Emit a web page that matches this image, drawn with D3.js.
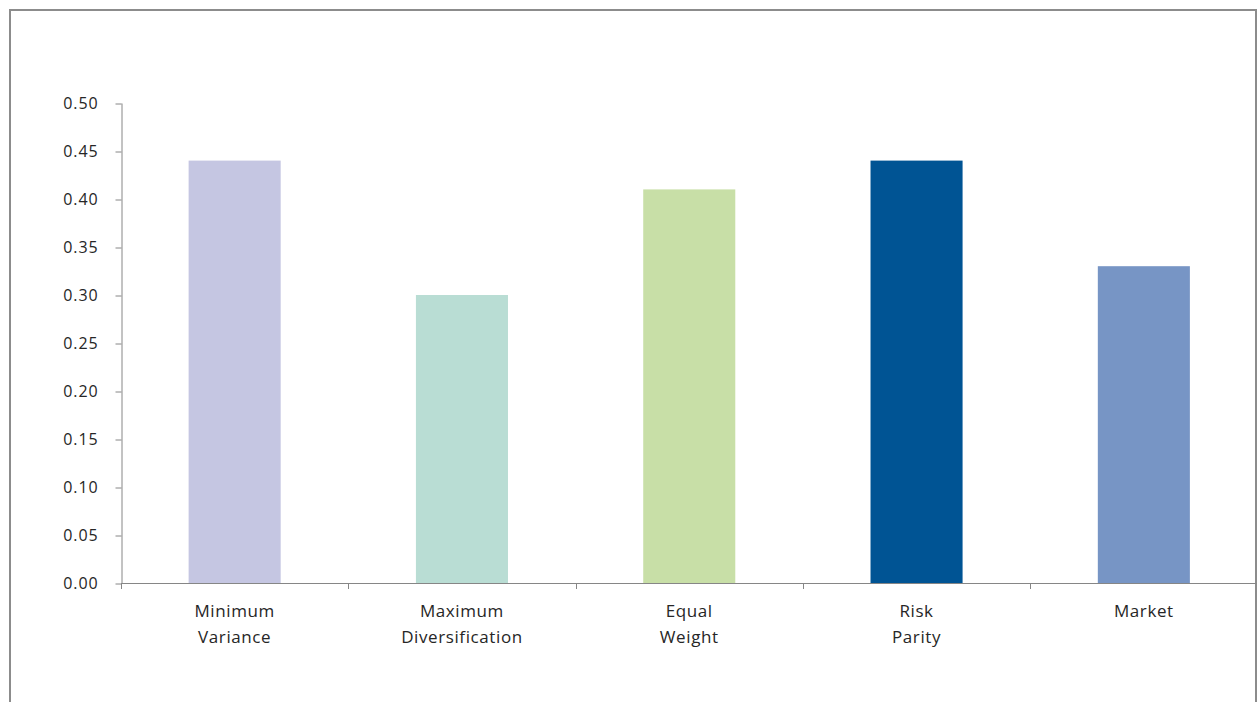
<!DOCTYPE html>
<html>
<head>
<meta charset="utf-8">
<script src="https://cdn.jsdelivr.net/npm/d3@7"></script>
<style>
  html, body { margin: 0; padding: 0; background: #fff; }
  svg { display: block; }
  text { font-family: "Open Sans", "Liberation Sans", sans-serif; fill: #262626; }
</style>
</head>
<body>
<svg id="chart" width="1257" height="702"></svg>
<script>
// Strategy labels (two lines each) and their values
const categories = [
  ["Minimum", "Variance"],
  ["Maximum", "Diversification"],
  ["Equal", "Weight"],
  ["Risk", "Parity"],
  ["Market"]
];
const values = [0.44, 0.30, 0.41, 0.44, 0.33];
const colors = ["#C5C6E2", "#B9DDD4", "#C8DFA7", "#005494", "#7795C5"];
const yTicks = [0, 0.05, 0.10, 0.15, 0.20, 0.25, 0.30, 0.35, 0.40, 0.45, 0.50];

const svg = d3.select("#chart");
const W = 1257, H = 702;

// outer frame
svg.append("path")
  .attr("d", `M10,${H} V10 H1256 V${H}`)
  .attr("fill", "none")
  .attr("stroke", "#8c8c8c")
  .attr("stroke-width", 2);

const plot = { left: 121, right: 1257.5, top: 103, bottom: 583 };
const keys = categories.map((c, i) => i);

const x = d3.scaleBand().domain(keys).range([plot.left, plot.right]).padding(0);
const y = d3.scaleLinear().domain([0, 0.5]).range([plot.bottom, plot.top]);
const barW = x.bandwidth() * 0.405;

// bars
svg.append("g").selectAll("rect")
  .data(values)
  .join("rect")
  .attr("x", (d, i) => x(i) + (x.bandwidth() - barW) / 2)
  .attr("y", d => y(d))
  .attr("width", barW)
  .attr("height", d => y(0) - y(d))
  .attr("fill", (d, i) => colors[i]);

// y axis
const yAxis = svg.append("g")
  .attr("transform", `translate(${plot.left + 0.5},0)`)
  .call(d3.axisLeft(y).tickValues(yTicks).tickFormat(d3.format(".2f")).tickSize(6).tickSizeOuter(0).tickPadding(17));
yAxis.selectAll("path, line").attr("stroke", "#868686");
yAxis.selectAll("text")
  .style("font-size", "16px")
  .style("letter-spacing", "0.9px")
  .attr("fill", "#262626");
yAxis.selectAll(".tick line").attr("transform", "translate(0,0.5)");

// x axis baseline with boundary ticks
const xg = svg.append("g");
xg.append("line")
  .attr("x1", plot.left).attr("x2", plot.right)
  .attr("y1", y(0) + 0.5).attr("y2", y(0) + 0.5)
  .attr("stroke", "#868686");
const bounds = keys.map(k => x(k)).concat([plot.right]);
xg.selectAll("line.tk")
  .data(bounds)
  .join("line")
  .attr("class", "tk")
  .attr("x1", d => Math.round(d) + 0.5).attr("x2", d => Math.round(d) + 0.5)
  .attr("y1", y(0)).attr("y2", y(0) + 6)
  .attr("stroke", "#868686");

// category labels
const lab = svg.append("g").selectAll("text")
  .data(categories)
  .join("text")
  .attr("text-anchor", "middle")
  .style("font-size", "17px")
  .style("letter-spacing", "0.6px");
lab.each(function(lines, i) {
  d3.select(this).selectAll("tspan")
    .data(lines)
    .join("tspan")
    .attr("x", x(i) + x.bandwidth() / 2)
    .attr("y", (l, j) => 617 + j * 26)
    .text(l => l);
});
</script>
</body>
</html>
